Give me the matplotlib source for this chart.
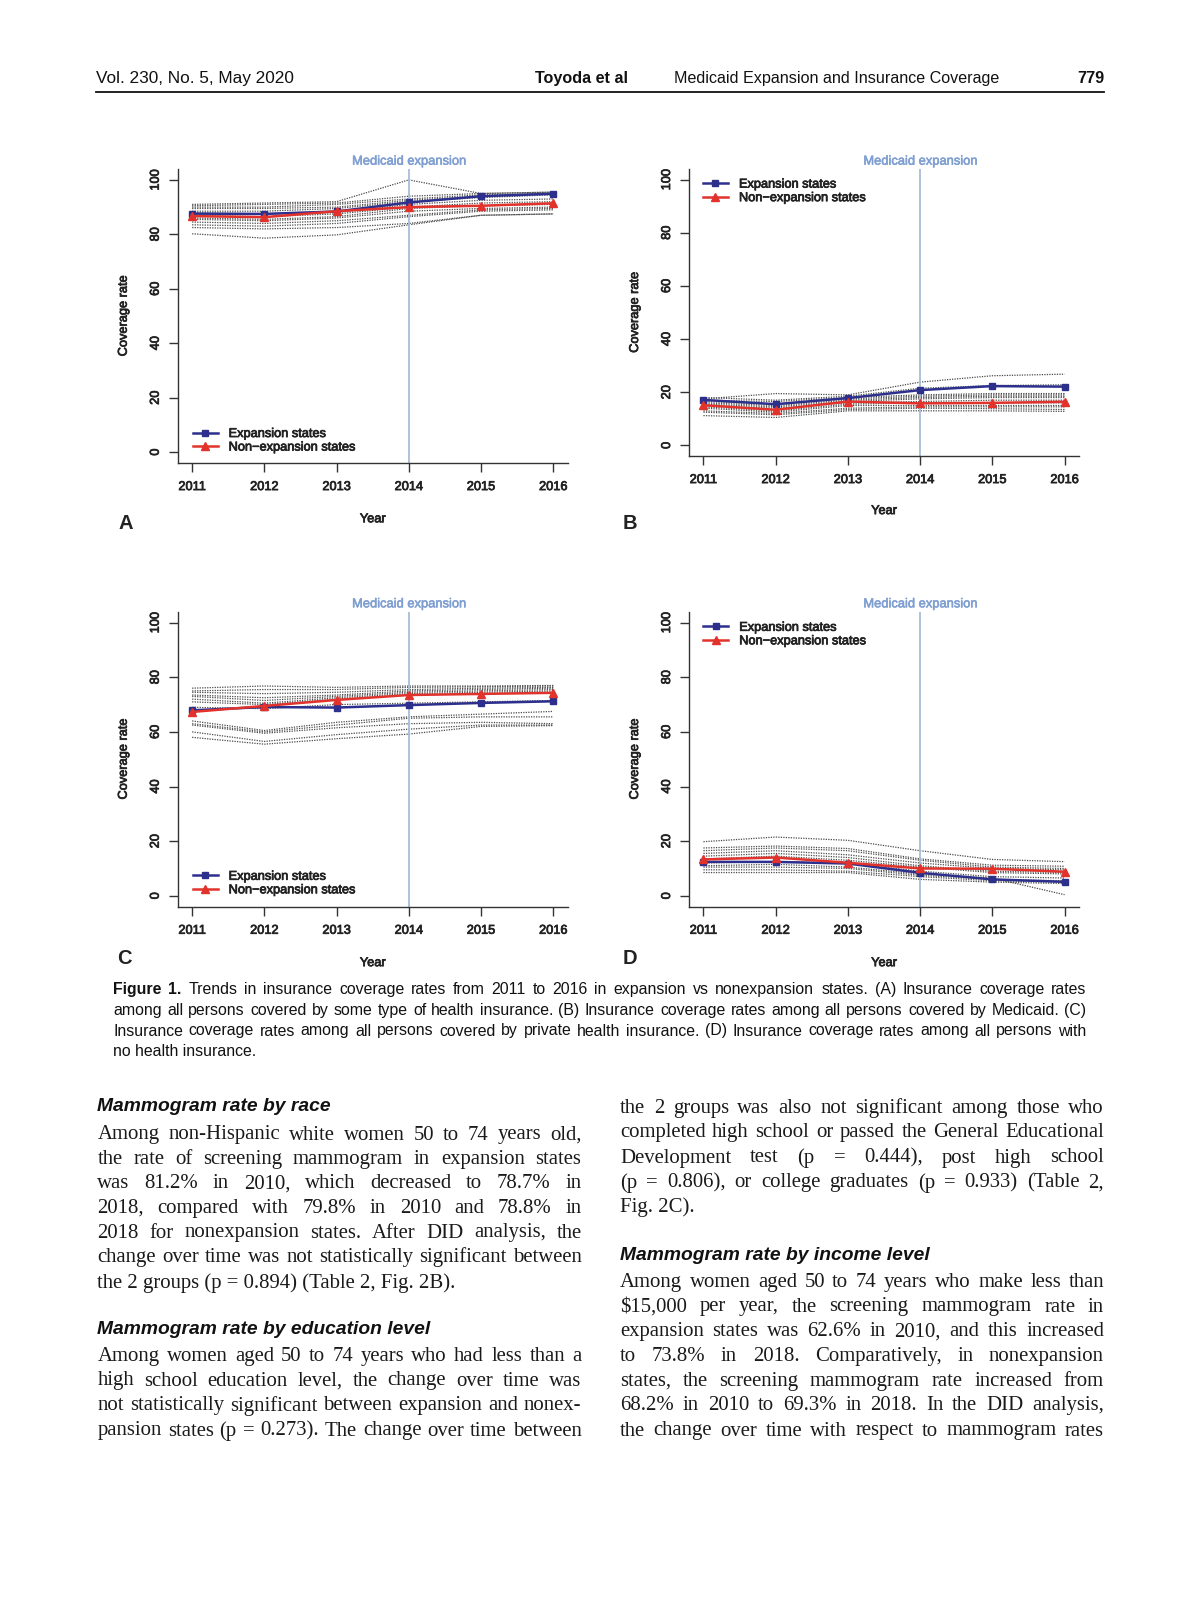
import matplotlib
matplotlib.use("Agg")
import matplotlib.pyplot as plt
import matplotlib.patheffects as pe
from matplotlib.lines import Line2D

plt.rcParams['font.family'] = ['Liberation Sans', 'DejaVu Sans']

W, H = 1200, 1613

years = [2011, 2012, 2013, 2014, 2015, 2016]
y_ticks = [0, 20, 40, 60, 80, 100]
expansion_year = 2014

# (A) any type of health insurance
exp_A = [87.6, 87.5, 88.4, 91.7, 94.0, 94.9]
non_A = [86.7, 86.3, 88.5, 90.0, 90.5, 91.4]
states_A = [
    [91.0, 91.5, 92.0, 100.0, 95.0, 95.5],
    [90.5, 91.0, 91.5, 94.0, 95.0, 95.5],
    [90.0, 90.0, 91.0, 93.0, 94.5, 95.0],
    [89.5, 89.5, 90.0, 92.5, 94.0, 95.0],
    [88.5, 88.5, 89.5, 92.0, 93.5, 94.5],
    [88.0, 87.5, 88.0, 91.0, 92.5, 93.0],
    [87.0, 86.5, 87.5, 90.0, 91.5, 92.0],
    [86.0, 85.5, 86.5, 89.5, 90.5, 91.0],
    [85.5, 85.0, 86.0, 88.5, 89.5, 90.0],
    [84.5, 84.0, 85.0, 87.0, 89.0, 89.5],
    [83.5, 83.0, 84.0, 86.5, 88.5, 89.0],
    [82.5, 82.0, 82.5, 84.0, 87.0, 87.5],
    [80.2, 78.6, 79.8, 83.5, 87.0, 87.5],
]

# (B) Medicaid
exp_B = [17.1, 15.5, 17.8, 20.8, 22.3, 22.1]
non_B = [15.1, 13.4, 16.5, 15.8, 16.0, 16.4]
states_B = [
    [17.5, 19.5, 19.0, 23.8, 26.2, 26.8],
    [18.0, 17.0, 18.5, 21.5, 22.5, 22.8],
    [17.0, 16.5, 18.0, 19.0, 19.5, 19.5],
    [16.5, 15.5, 17.5, 18.5, 19.0, 19.0],
    [16.0, 15.0, 17.0, 18.0, 18.5, 18.5],
    [15.5, 14.5, 16.5, 17.5, 18.0, 18.0],
    [15.0, 14.0, 16.0, 16.5, 17.0, 17.0],
    [14.5, 13.0, 15.5, 16.0, 16.0, 16.0],
    [14.0, 12.5, 15.0, 15.0, 15.0, 15.0],
    [13.0, 12.0, 14.0, 14.5, 14.5, 14.5],
    [12.5, 11.5, 13.5, 14.0, 13.8, 13.5],
    [11.2, 10.5, 13.0, 13.0, 13.0, 12.8],
]

# (C) private health insurance
exp_C = [67.9, 69.1, 68.9, 69.8, 70.6, 71.2]
non_C = [67.3, 69.5, 71.7, 73.5, 73.9, 74.3]
states_C = [
    [76.0, 76.8, 76.3, 76.8, 76.8, 77.0],
    [75.0, 75.5, 75.5, 76.3, 76.5, 76.8],
    [74.5, 74.0, 74.5, 75.5, 76.0, 76.3],
    [73.5, 72.5, 73.5, 75.0, 75.5, 76.0],
    [73.0, 71.5, 73.0, 74.5, 75.0, 75.5],
    [72.0, 70.5, 72.5, 74.0, 74.5, 75.0],
    [71.0, 70.0, 72.0, 73.5, 74.0, 74.5],
    [69.0, 68.5, 70.0, 70.5, 71.0, 71.5],
    [64.0, 60.5, 63.5, 65.5, 66.5, 67.5],
    [63.0, 60.0, 62.5, 65.0, 65.5, 65.5],
    [62.5, 59.5, 61.5, 63.0, 63.5, 63.0],
    [60.0, 56.5, 59.0, 61.0, 62.5, 62.5],
    [58.0, 55.5, 57.5, 59.2, 62.0, 62.3],
]

# (D) no health insurance
exp_D = [12.4, 12.4, 11.8, 8.4, 6.0, 5.1]
non_D = [13.3, 14.0, 12.1, 10.0, 9.9, 8.8]
states_D = [
    [19.8, 21.5, 20.3, 16.5, 13.3, 12.5],
    [17.5, 18.2, 17.3, 13.5, 11.2, 10.8],
    [16.5, 17.5, 16.5, 13.0, 10.5, 10.0],
    [15.5, 16.5, 15.0, 12.0, 10.0, 9.5],
    [14.5, 15.5, 14.0, 11.0, 9.0, 8.5],
    [13.5, 14.5, 13.0, 10.5, 8.5, 8.0],
    [12.0, 12.5, 12.0, 9.0, 7.0, 6.5],
    [11.0, 11.5, 10.5, 8.0, 6.5, 0.4],
    [10.5, 10.5, 10.0, 7.5, 6.0, 5.5],
    [9.5, 9.5, 9.0, 7.0, 5.5, 5.0],
    [8.5, 8.5, 8.5, 6.0, 5.0, 4.5],
]

header_left = "Vol. 230, No. 5, May 2020"
header_auth = "Toyoda et al"
header_title = "Medicaid Expansion and Insurance Coverage"
header_page = "779"

caption = [
    "Figure 1. Trends in insurance coverage rates from 2011 to 2016 in expansion vs nonexpansion states. (A) Insurance coverage rates",
    "among all persons covered by some type of health insurance. (B) Insurance coverage rates among all persons covered by Medicaid. (C)",
    "Insurance coverage rates among all persons covered by private health insurance. (D) Insurance coverage rates among all persons with",
    "no health insurance.",
]

left_col = [
    ("h", "Mammogram rate by race"),
    ("j", "Among non-Hispanic white women 50 to 74 years old,"),
    ("j", "the rate of screening mammogram in expansion states"),
    ("j", "was 81.2% in 2010, which decreased to 78.7% in"),
    ("j", "2018, compared with 79.8% in 2010 and 78.8% in"),
    ("j", "2018 for nonexpansion states. After DID analysis, the"),
    ("j", "change over time was not statistically significant between"),
    ("l", "the 2 groups (p = 0.894) (Table 2, Fig. 2B)."),
    ("h", "Mammogram rate by education level"),
    ("j", "Among women aged 50 to 74 years who had less than a"),
    ("j", "high school education level, the change over time was"),
    ("j", "not statistically significant between expansion and nonex-"),
    ("j", "pansion states (p = 0.273). The change over time between"),
]
right_col = [
    ("j", "the 2 groups was also not significant among those who"),
    ("j", "completed high school or passed the General Educational"),
    ("j", "Development test (p = 0.444), post high school"),
    ("j", "(p = 0.806), or college graduates (p = 0.933) (Table 2,"),
    ("l", "Fig. 2C)."),
    ("h", "Mammogram rate by income level"),
    ("j", "Among women aged 50 to 74 years who make less than"),
    ("j", "$15,000 per year, the screening mammogram rate in"),
    ("j", "expansion states was 62.6% in 2010, and this increased"),
    ("j", "to 73.8% in 2018. Comparatively, in nonexpansion"),
    ("j", "states, the screening mammogram rate increased from"),
    ("j", "68.2% in 2010 to 69.3% in 2018. In the DID analysis,"),
    ("j", "the change over time with respect to mammogram rates"),
]

fig = plt.figure(figsize=(W / 100, H / 100), dpi=100)
renderer = fig.canvas.get_renderer()

NAVY = '#2d2f8c'
RED = '#e2322c'
VLINE = '#a9bdd8'
VTEXT = '#7f9fd2'
GREY = '#4a4a4a'
INK = '#222222'
heavy = [pe.withStroke(linewidth=0.55, foreground=INK)]

# left, top, right, bottom (px), legend anchor, letter
panels = [
    (exp_A, non_A, states_A, (177.7, 169, 567.7, 463), (0.0385, 0.0755), 'A', (125.5, 524)),
    (exp_B, non_B, states_B, (689, 169, 1079, 456), (0.036, 0.922), 'B', (630, 524)),
    (exp_C, non_C, states_C, (177.7, 611.7, 567.7, 906.7), (0.0385, 0.0785), 'C', (124.5, 959)),
    (exp_D, non_D, states_D, (689, 611.7, 1079, 906.7), (0.0367, 0.9225), 'D', (630, 959)),
]

for exp, non, states, (l, t, r, b), leg, letter, (lx, ly) in panels:
    ax = fig.add_axes([l / W, 1 - b / H, (r - l) / W, (b - t) / H])
    for s in states:
        ax.plot(years, s, color=GREY, lw=0.9, ls=(0, (1, 1.0)), zorder=1)
    ax.axvline(expansion_year, color=VLINE, lw=1.3, zorder=2)
    ax.plot(years, exp, color=NAVY, lw=1.8, marker='s', ms=4.8,
            label='Expansion states', zorder=3)
    ax.plot(years, non, color=RED, lw=1.8, marker='^', ms=5.2,
            label='Non\u2212expansion states', zorder=4)
    ax.set_xlim(2010.8, 2016.2)
    ax.set_ylim(-4, 104)
    ax.set_xticks(years)
    ax.set_xticklabels([str(y) for y in years])
    ax.set_yticks(y_ticks)
    ax.set_yticklabels([str(v) for v in y_ticks], rotation=90, va='center')
    ax.tick_params(length=6.5, width=1.0, color='#333333', labelsize=9.2,
                   labelcolor=INK)
    ax.tick_params(axis='y', pad=5)
    ax.tick_params(axis='x', pad=6.5)
    for lab in ax.get_xticklabels() + ax.get_yticklabels():
        lab.set_path_effects(heavy)
    for side in ['top', 'right']:
        ax.spines[side].set_visible(False)
    for side in ['left', 'bottom']:
        ax.spines[side].set_linewidth(1.0)
        ax.spines[side].set_color('#333333')
    ax.set_ylabel('Coverage rate', fontsize=9.2, color=INK, path_effects=heavy)
    ax.set_xlabel('Year', fontsize=9.2, color=INK, path_effects=heavy)
    ax.yaxis.set_label_coords(-0.123, 0.5)
    ax.xaxis.set_label_coords(0.5, -0.171)
    ax.annotate('Medicaid expansion', xy=(expansion_year, 1),
                xycoords=('data', 'axes fraction'), xytext=(0, 5.3),
                textcoords='offset points', ha='center', va='center',
                fontsize=9.3, color=VTEXT,
                path_effects=[pe.withStroke(linewidth=0.4, foreground=VTEXT)])
    lg = ax.legend(loc='center left', bbox_to_anchor=leg, frameon=False,
                   fontsize=9.2, handlelength=1.95, handletextpad=0.86,
                   labelspacing=0.12, borderpad=0, borderaxespad=0)
    for txt in lg.get_texts():
        txt.set_path_effects(heavy)
        txt.set_color(INK)
    fig.text(lx / W, 1 - ly / H, letter, fontsize=14.5, weight='bold',
             ha='center', va='center', color=INK)


def width_of(s, size, **kw):
    t = fig.text(0, 0, s, fontsize=size, **kw)
    w = t.get_window_extent(renderer).width
    t.remove()
    return w


def put(x, y, s, size, ha='left', **kw):
    return fig.text(x / W, 1 - y / H, s, fontsize=size, ha=ha, va='center', **kw)


def justify(line, x0, x1, y, size, bold_words=0, **kw):
    words = line.split(' ')
    widths = []
    for i, w in enumerate(words):
        weight = 'bold' if i < bold_words else 'normal'
        widths.append(width_of(w, size, weight=weight, **kw))
    gap = (x1 - x0 - sum(widths)) / (len(words) - 1)
    x = x0
    for i, (w, wd) in enumerate(zip(words, widths)):
        weight = 'bold' if i < bold_words else 'normal'
        put(x, y, w, size, weight=weight, **kw)
        x += wd + gap


# page header
sans = ['Liberation Sans', 'DejaVu Sans']
hsize = 10 * (1000 - 674) / width_of(header_title, 10, family=sans)
lsize = 10 * (295.3 - 95.7) / width_of(header_left, 10, family=sans)
put(95.7, 78.2, header_left, lsize, family=sans, color='#111111')
put(535, 78.2, header_auth, hsize, family=sans, weight='bold', color='#111111')
put(674, 78.2, header_title, hsize, family=sans, color='#111111')
put(1104, 78.2, header_page, hsize, ha='right', family=sans, weight='bold',
    color='#111111')
fig.add_artist(Line2D([95.7 / W, 1104 / W], [1 - 91.6 / H, 1 - 91.6 / H],
                      lw=1.3, color='#111111'))

# caption
cap_x0, cap_x1 = 113.2, 1086.6
cap_y = [989.9, 1010.5, 1031, 1051.6]
natural = max(width_of(c, 10, family=sans) for c in caption[:3])
csize = 10 * (cap_x1 - cap_x0) * 0.99 / natural
for i, (line, y) in enumerate(zip(caption, cap_y)):
    if i < 3:
        justify(line, cap_x0, cap_x1, y, csize, bold_words=2 if i == 0 else 0,
                family=sans, color='#111111')
    else:
        put(cap_x0, y, line, csize, family=sans, color='#111111')

# body text columns
serif = ['Liberation Serif', 'DejaVu Serif']
col_w = 581.5 - 97.3
longest = max(width_of(line, 10, family=serif)
              for col in (left_col, right_col) for kind, line in col if kind == 'j')
bsize = min(10 * col_w * 0.995 / longest,
            10 * (483.3 - 97.3) / width_of("the 2 groups (p = 0.894) (Table 2, Fig. 2B).", 10,
                                           family=serif))
head_size = 10 * (431.7 - 97.3) / width_of("Mammogram rate by education level", 10,
                                            family=sans, weight='bold', style='italic')

left_y = [1106.7, 1135, 1159.5, 1184, 1208.5, 1233, 1257.5, 1283,
          1330, 1356.5, 1381, 1405.6, 1431]
right_y = [1108.3, 1132.7, 1158, 1182.7, 1207, 1255,
           1282.7, 1307, 1331.7, 1356.5, 1381.5, 1405.6, 1431]

for col, ys, x0, x1 in [(left_col, left_y, 97.3, 581.5), (right_col, right_y, 620, 1104)]:
    for (kind, line), y in zip(col, ys):
        if kind == 'h':
            put(x0, y, line, head_size, family=sans, weight='bold',
                style='italic', color='#111111')
        elif kind == 'j':
            justify(line, x0, x1, y, bsize, family=serif, color='#1a1a1a')
        else:
            put(x0, y, line, bsize, family=serif, color='#1a1a1a')

fig.savefig('out.png', dpi=100)
